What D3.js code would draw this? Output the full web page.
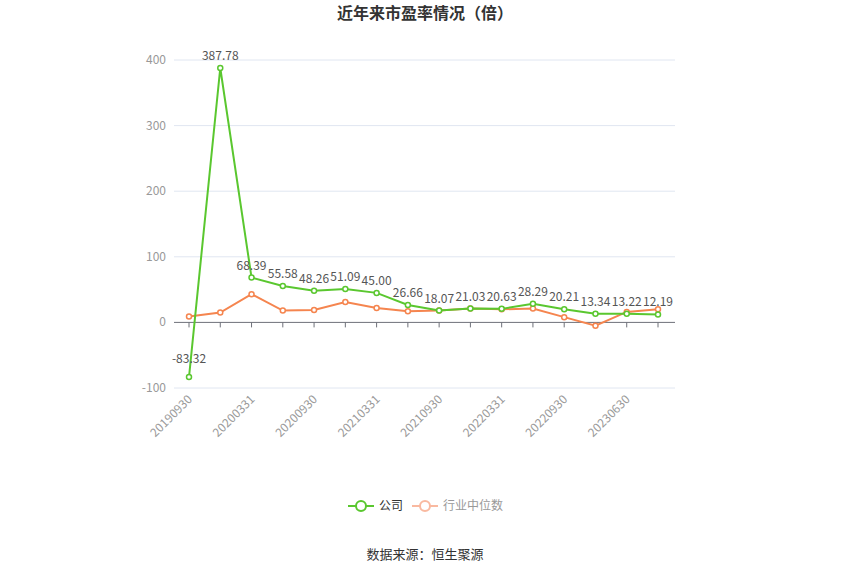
<!DOCTYPE html><html><head><meta charset="utf-8"><script src="https://cdn.jsdelivr.net/npm/d3@7"></script>
<style>body{margin:0;background:#fff;font-family:"Noto Sans CJK SC","Noto Sans",sans-serif}</style></head><body><svg id="c" width="850" height="575"></svg>
<script>
const dates=["20190930","20191231","20200331","20200630","20200930","20201231","20210331","20210630","20210930","20211231","20220331","20220630","20220930","20221231","20230630","20230930"];
const company=[-83.32,387.78,68.39,55.58,48.26,51.09,45.00,26.66,18.07,21.03,20.63,28.29,20.21,13.34,13.22,12.19];
const industry=[9,15,43,18,19,31,22,17,18,21,20,21,8,-5,16,20];
const yTicks=[-100,0,100,200,300,400];
const svg=d3.select("#c");
const x=d3.scalePoint().domain(dates).range([189,658]);
const y=d3.scaleLinear().domain([-100,400]).range([388,60]);
svg.append("text").attr("x",425).attr("y",19).attr("text-anchor","middle").attr("font-size",16).attr("font-weight","bold").attr("fill","#333").text("近年来市盈率情况（倍）");
const g=svg.append("g");
yTicks.forEach(t=>{g.append("line").attr("x1",174).attr("x2",675).attr("y1",y(t)).attr("y2",y(t)).attr("stroke",t===0?"#6e7079":"#e0e6f1");
g.append("text").attr("x",166).attr("y",y(t)+4).attr("text-anchor","end").attr("font-size",12).attr("fill","#999").text(t);});
dates.forEach((d,i)=>{g.append("line").attr("x1",x(d)).attr("x2",x(d)).attr("y1",y(0)).attr("y2",y(0)+5).attr("stroke","#6e7079");
if(i%2===0)g.append("text").attr("transform",`translate(${x(d)+4},${y(-100)+12}) rotate(-45)`).attr("text-anchor","end").attr("font-size",12).attr("fill","#999").text(d);});
function series(vals,col,labels){
 const line=d3.line().x((v,i)=>x(dates[i])).y(v=>y(v));
 g.append("path").attr("d",line(vals)).attr("fill","none").attr("stroke",col).attr("stroke-width",2);
 vals.forEach((v,i)=>g.append("circle").attr("cx",x(dates[i])).attr("cy",y(v)).attr("r",2.5).attr("fill","#fff").attr("stroke",col).attr("stroke-width",1.5));
 if(labels)vals.forEach((v,i)=>g.append("text").attr("x",x(dates[i])).attr("y",v<0?y(v)-14:y(v)-8).attr("text-anchor","middle").attr("font-size",12).attr("fill","#555").text(v.toFixed(2)));
}
series(industry,"#f5854f",false);
series(company,"#5ac72f",true);
const lg=svg.append("g");
lg.append("line").attr("x1",348).attr("x2",374).attr("y1",506).attr("y2",506).attr("stroke","#5ac72f").attr("stroke-width",2);
lg.append("circle").attr("cx",361).attr("cy",506).attr("r",5).attr("fill","#fff").attr("stroke","#5ac72f").attr("stroke-width",2);
lg.append("text").attr("x",379).attr("y",510).attr("font-size",12).attr("fill","#333").text("公司");
lg.append("line").attr("x1",412).attr("x2",438).attr("y1",506).attr("y2",506).attr("stroke","#f9b9a0").attr("stroke-width",2);
lg.append("circle").attr("cx",425).attr("cy",506).attr("r",5).attr("fill","#fff").attr("stroke","#f9b9a0").attr("stroke-width",2);
lg.append("text").attr("x",443).attr("y",510).attr("font-size",12).attr("fill","#999").text("行业中位数");
svg.append("text").attr("x",425).attr("y",559).attr("text-anchor","middle").attr("font-size",13).attr("fill","#333").text("数据来源：恒生聚源");
</script></body></html>
